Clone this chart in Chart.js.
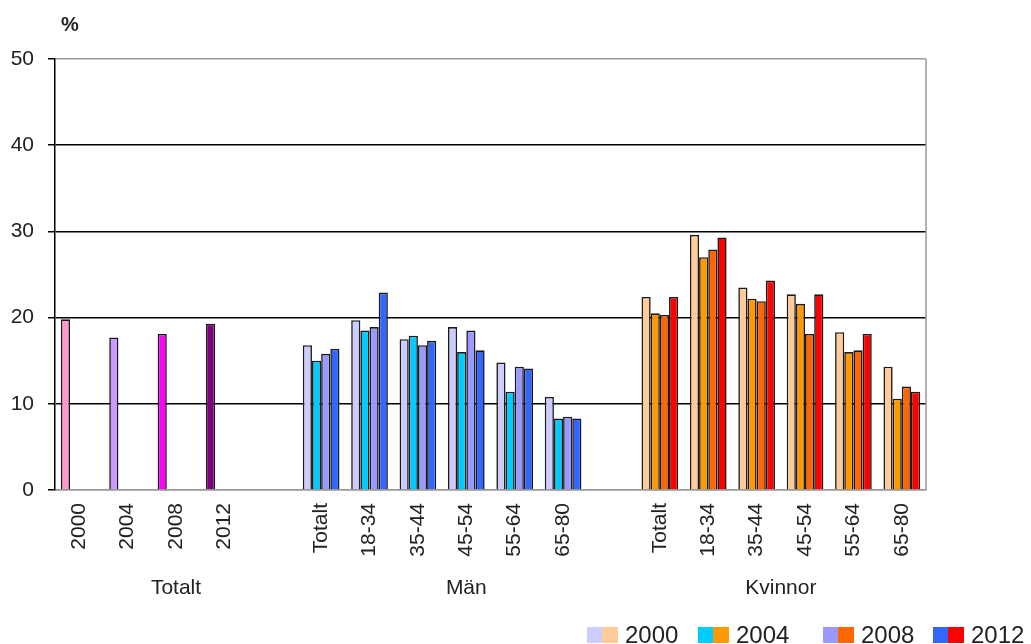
<!DOCTYPE html>
<html>
<head>
<meta charset="utf-8">
<title>Andel per åldersgrupp</title>
<script src="https://cdn.jsdelivr.net/npm/chart.js@4"></script>
<style>
  html, body { margin: 0; padding: 0; background: #fff; }
  #andel-chart { display: block; }
</style>
</head>
<body>
<canvas id="andel-chart" width="1031" height="644"></canvas>
<script>

// data (percent)
const years = ['2000', '2004', '2008', '2012'];
const totaltValues = [19.8, 17.7, 18.1, 19.3];
const ageGroups = ['Totalt', '18-34', '35-44', '45-54', '55-64', '65-80'];

const man2000 = [16.8, 19.7, 17.5, 18.9, 14.8, 10.8];
const man2004 = [15.0, 18.5, 17.9, 16.0, 11.4, 8.3];
const man2008 = [15.8, 18.9, 16.8, 18.5, 14.3, 8.5];
const man2012 = [16.4, 22.9, 17.3, 16.2, 14.1, 8.3];

const kv2000 = [22.4, 29.6, 23.5, 22.7, 18.3, 14.3];
const kv2004 = [20.5, 27.0, 22.2, 21.6, 16.0, 10.6];
const kv2008 = [20.3, 27.9, 21.9, 18.1, 16.2, 12.0];
const kv2012 = [22.4, 29.3, 24.3, 22.7, 18.1, 11.4];

const yTicks = [0, 10, 20, 30, 40, 50];

// colours
const totaltColors = ['#FF99CC', '#CC99FF', '#FF00FF', '#800080'];
const manColors = ['#CCCCFF', '#00CCFF', '#9999FF', '#3366FF'];
const kvColors = ['#FFCC99', '#FF9900', '#FF6600', '#FF0000'];

const FONT = "'Liberation Sans', Arial, sans-serif";

// x categories: totalt years, gap, män, gap, kvinnor
const labels = [].concat(years, [''], ageGroups, [''], ageGroups);
const groups = [
  { name: 'Totalt', from: 0, to: 4 },
  { name: 'Män', from: 5, to: 11 },
  { name: 'Kvinnor', from: 12, to: 17 }
];

// legend entry left edges (swatch start)
const legendX = [587, 698, 823, 933];

const manSeries = [man2000, man2004, man2008, man2012];
const kvSeries = [kv2000, kv2004, kv2008, kv2012];

function buildDataset(i)
{
  let head = i === 0 ? totaltValues.slice() : [null, null, null, null];
  let headColors = i === 0 ? totaltColors.slice() : totaltColors.map(function () { return '#fff'; });
  let blank = ageGroups.map(function () { return null; });

  return {
    label: years[i],
    data: [].concat(head, [null], manSeries[i], [null], kvSeries[i]),
    backgroundColor: [].concat(headColors, ['#fff'],
      blank.map(function () { return manColors[i]; }), ['#fff'],
      blank.map(function () { return kvColors[i]; })),
    borderColor: '#1a1a1a',
    borderWidth: 1.6,
    borderSkipped: 'bottom',
    categoryPercentage: 0.758,
    barPercentage: 1.0
  };
}

//-------------
//- extra text -
//-------------
const extras = {
  id: 'extras',
  afterDraw: function (chart) {
    const ctx = chart.ctx;
    const area = chart.chartArea;
    const x = chart.scales.x;

    ctx.save();

    // right border of plot area
    ctx.strokeStyle = '#999';
    ctx.lineWidth = 1.5;
    ctx.beginPath();
    ctx.moveTo(area.right, area.top);
    ctx.lineTo(area.right, area.bottom);
    ctx.stroke();

    // unit label
    ctx.fillStyle = '#222';
    ctx.font = 'bold 20px ' + FONT;
    ctx.textAlign = 'center';
    ctx.textBaseline = 'middle';
    ctx.fillText('%', area.left + 15, area.top - 34);

    // group labels under the rotated ticks
    ctx.font = '21px ' + FONT;
    groups.forEach(function (g) {
      const cx = (x.getPixelForValue(g.from) + x.getPixelForValue(g.to)) / 2;
      ctx.fillText(g.name, cx, area.bottom + 98);
    });

    // legend: paired swatches (män / kvinnor) per year
    ctx.font = '24px ' + FONT;
    ctx.textAlign = 'left';
    const ly = 627;
    years.forEach(function (y, i) {
      const lx = legendX[i];
      ctx.fillStyle = manColors[i];
      ctx.fillRect(lx, ly, 15, 16);
      ctx.fillStyle = kvColors[i];
      ctx.fillRect(lx + 15, ly, 16, 16);
      ctx.fillStyle = '#222';
      ctx.fillText(y, lx + 38, ly + 9);
    });

    ctx.restore();
  }
};

//-------------
//- Bar CHART -
//-------------
new Chart(document.getElementById('andel-chart'), {
  type: 'bar',
  data: {
    labels: labels,
    datasets: [0, 1, 2, 3].map(buildDataset)
  },
  options: {
    responsive: false,
    animation: false,
    layout: {
      padding: { top: 59, right: 105, left: 0, bottom: 0 }
    },
    plugins: {
      legend: { display: false },
      tooltip: { enabled: false }
    },
    scales: {
      x: {
        offset: true,
        afterFit: function (scale) { scale.height = 154; },
        grid: { display: false, drawTicks: false },
        border: { color: '#999', width: 1.5 },
        ticks: {
          autoSkip: false,
          minRotation: 90,
          maxRotation: 90,
          padding: 13,
          color: '#222',
          font: { family: FONT, size: 21 }
        }
      },
      y: {
        min: 0,
        max: 50,
        afterFit: function (scale) { scale.width = 55; },
        afterBuildTicks: function (scale) {
          scale.ticks = yTicks.map(function (v) { return { value: v }; });
        },
        border: { color: '#000', width: 1.5 },
        grid: {
          color: function (c) {
            return (c.tick && (c.tick.value === 50 || c.tick.value === 0)) ? '#999' : '#000';
          },
          tickColor: '#000',
          lineWidth: 1.5,
          tickLength: 7
        },
        ticks: {
          padding: 14,
          color: '#222',
          font: { family: FONT, size: 21 }
        }
      }
    }
  },
  plugins: [extras]
});

</script>
</body>
</html>
